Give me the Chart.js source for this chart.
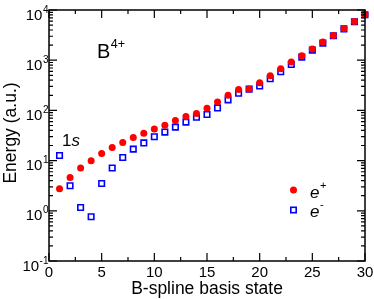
<!DOCTYPE html>
<html><head><meta charset="utf-8">
<script src="https://cdn.jsdelivr.net/npm/chart.js@4"></script>
<style>html,body{margin:0;padding:0;background:#fff}#wrap{width:374px;height:299px}</style>
</head><body><div id="wrap"><canvas id="c" width="374" height="299"></canvas></div>
<script>
const states = [1,2,3,4,5,6,7,8,9,10,11,12,13,14,15,16,17,18,19,20,21,22,23,24,25,26,27,28,29,30];
const ePlus  = [2.74,4.6,7.1,9.9,13.9,18.2,23,28.7,35.2,42.7,50.5,63,75.5,86.8,110,147,200,260,266,355,489,674,916,1224,1664,2292,3104,4276,5897,8020];
const eMinus = [12.6,3.15,1.16,0.76,3.5,7.1,11.5,16.9,22.5,29.8,37,46.5,58.5,73,83,112,162,220,266,307,426,587,822,1153,1589,2188,3062,4217,5818,8020];
const xTicks = [0,5,10,15,20,25,30];
const yExps = [-1,0,1,2,3,4];
const FONT = '"Liberation Sans", Arial, Helvetica, sans-serif';

function supText(ctx, base, sup, x, y, baseSize, supSize, supRise, align, italicBase){
  ctx.font = (italicBase?'italic ':'') + baseSize + 'px ' + FONT;
  const wb = ctx.measureText(base).width;
  ctx.font = supSize + 'px ' + FONT;
  const ws = ctx.measureText(sup).width;
  let x0 = x;
  if (align === 'right') x0 = x - wb - ws;
  else if (align === 'center') x0 = x - (wb + ws)/2;
  ctx.textAlign = 'left'; ctx.textBaseline = 'alphabetic';
  ctx.font = (italicBase?'italic ':'') + baseSize + 'px ' + FONT;
  ctx.fillText(base, x0, y);
  ctx.font = supSize + 'px ' + FONT;
  ctx.fillText(sup, x0 + wb + 0.5, y - supRise);
}

const decor = {
  id: 'decor',
  afterDraw(chart){
    const ctx = chart.ctx, a = chart.chartArea;
    const xs = chart.scales.x, ys = chart.scales.y;
    ctx.save();
    ctx.strokeStyle = '#000'; ctx.fillStyle = '#000';
    ctx.lineWidth = 1.5;
    ctx.strokeRect(a.left, a.top, a.right - a.left, a.bottom - a.top);
    ctx.lineWidth = 1.2;
    ctx.beginPath();
    // x ticks
    for (let v = 0; v <= 30; v += 2.5) {
      const px = xs.getPixelForValue(v);
      const len = (v % 5 === 0) ? 8 : 4;
      ctx.moveTo(px, a.bottom); ctx.lineTo(px, a.bottom - len);
      ctx.moveTo(px, a.top); ctx.lineTo(px, a.top + len);
    }
    // y ticks
    for (let e = -1; e <= 4; e++) {
      for (let m = 1; m <= 9; m++) {
        if (e === 4 && m > 1) break;
        const v = m * Math.pow(10, e);
        const py = ys.getPixelForValue(v);
        const len = (m === 1) ? 8 : 4;
        ctx.moveTo(a.left, py); ctx.lineTo(a.left + len, py);
        ctx.moveTo(a.right, py); ctx.lineTo(a.right - len, py);
      }
    }
    ctx.stroke();
    // x tick labels
    ctx.font = '15px ' + FONT; ctx.textAlign = 'center'; ctx.textBaseline = 'alphabetic';
    xTicks.forEach(v => ctx.fillText(String(v), xs.getPixelForValue(v), a.bottom + 16));
    // y tick labels
    yExps.forEach(e => {
      const py = ys.getPixelForValue(Math.pow(10, e));
      supText(ctx, '10', String(e), a.left - 1, py + 9.5, 15, 10, 7, 'right');
    });
    // axis titles
    ctx.font = '17.5px ' + FONT; ctx.textAlign = 'center'; ctx.textBaseline = 'alphabetic';
    ctx.fillText('B-spline basis state', (a.left + a.right)/2, 294);
    ctx.save();
    ctx.translate(16, 133); ctx.rotate(-Math.PI/2);
    ctx.fillText('Energy (a.u.)', 0, 0);
    ctx.restore();
    // annotations
    supText(ctx, 'B', '4+', 97, 58, 20, 12.5, 10, 'left');
    ctx.font = '17px ' + FONT; ctx.textAlign = 'left';
    ctx.fillText('1', 62, 146);
    const w1 = ctx.measureText('1').width;
    ctx.font = 'italic 17px ' + FONT;
    ctx.fillText('s', 62 + w1, 146);
    // legend
    ctx.fillStyle = '#ff0000';
    ctx.beginPath(); ctx.arc(293.5, 190, 3.5, 0, Math.PI*2); ctx.fill();
    ctx.strokeStyle = '#0000ff'; ctx.lineWidth = 1.6;
    ctx.strokeRect(290.8, 207.3, 5.4, 5.4);
    ctx.fillStyle = '#000';
    supText(ctx, 'e', '+', 310, 198, 17, 11, 9, 'left', true);
    supText(ctx, 'e', '-', 310, 217, 17, 11, 9, 'left', true);
    ctx.restore();
  }
};

new Chart(document.getElementById('c'), {
  type: 'scatter',
  data: {
    datasets: [
      { label: 'e+', data: states.map((s,i)=>({x:s, y:ePlus[i]})), pointStyle: 'circle', pointRadius: 3.5,
        backgroundColor: '#ff0000', borderColor: '#ff0000', borderWidth: 0, clip: false },
      { label: 'e-', data: states.map((s,i)=>({x:s, y:eMinus[i]})), pointStyle: 'rect', pointRadius: 3.9,
        backgroundColor: 'rgba(0,0,0,0)', borderColor: '#0000ff', borderWidth: 1.6, clip: false }
    ]
  },
  options: {
    responsive: false, animation: false, devicePixelRatio: 1,
    layout: { padding: { left: 49, right: 9, top: 10, bottom: 38 } },
    plugins: { legend: { display: false }, tooltip: { enabled: false } },
    scales: {
      x: { type: 'linear', min: 0, max: 30, display: false },
      y: { type: 'logarithmic', min: 0.1, max: 10000, display: false }
    }
  },
  plugins: [decor]
});
</script></body></html>
